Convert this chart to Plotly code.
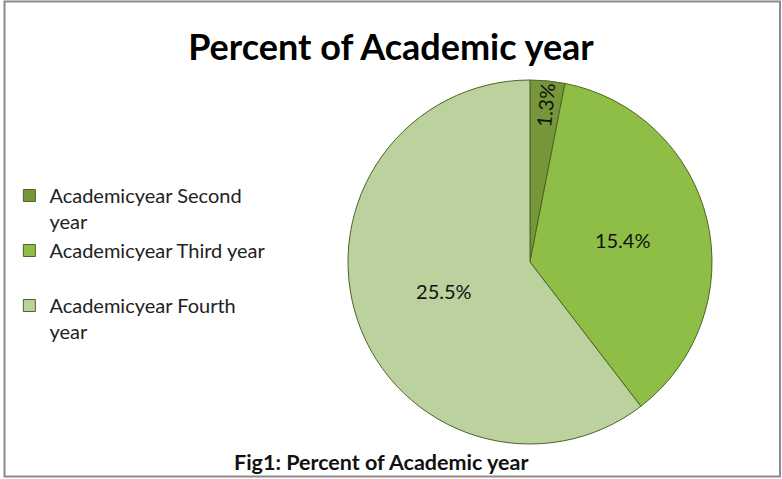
import plotly.graph_objects as go

categories = ["Academicyear Second<br>year", "Academicyear Third year<br> ", "Academicyear Fourth<br>year"]
values = [1.3, 15.4, 25.5]
value_labels = ["1.3%", "15.4%", "25.5%"]
colors = ["#76963A", "#8EBE45", "#BCD29E"]

W, H = 782, 479
cx0, cx1 = 348, 712
cy0, cy1 = 80, 444
FONT = "Lato, Open Sans, sans-serif"

fig = go.Figure(go.Pie(
    labels=categories,
    values=values,
    text=value_labels,
    textinfo="text",
    textposition="inside",
    insidetextorientation="auto",
    sort=False,
    direction="clockwise",
    rotation=0,
    marker=dict(colors=colors, line=dict(color="#4F6228", width=1)),
    textfont=dict(family=FONT, size=20, color="#111111"),
    domain=dict(x=[cx0 / W, cx1 / W], y=[1 - cy1 / H, 1 - cy0 / H]),
    hoverinfo="label+text",
))

fig.update_layout(
    width=W, height=H,
    margin=dict(l=0, r=0, t=0, b=0),
    paper_bgcolor="white",
    plot_bgcolor="white",
    font=dict(family=FONT, color="#222222"),
    title=dict(text="<b>Percent of Academic year</b>", x=0.5, xanchor="center",
               y=1 - 47 / H, yanchor="middle",
               font=dict(size=36, color="#000000", family=FONT)),
    legend=dict(x=0.012, y=1 - 176 / H, xanchor="left", yanchor="top",
                font=dict(size=20, color="#222222"), itemwidth=30,
                valign="top", tracegroupgap=0, bgcolor="rgba(0,0,0,0)"),
    showlegend=True,
    annotations=[dict(text="<b>Fig1: Percent of Academic year</b>", x=381 / W, y=1 - 462 / H,
                      xref="paper", yref="paper", showarrow=False,
                      font=dict(size=21.5, color="#111111"), xanchor="center", yanchor="middle")],
    shapes=[dict(type="rect", xref="paper", yref="paper",
                 x0=4.5 / W, x1=780 / W, y0=1 - 476.5 / H, y1=1 - 1.5 / H,
                 line=dict(color="#8C8C8C", width=2), fillcolor="rgba(0,0,0,0)")],
)

fig.write_html("out.html", config={"displayModeBar": False},
               post_script="document.body.style.margin='0';")
